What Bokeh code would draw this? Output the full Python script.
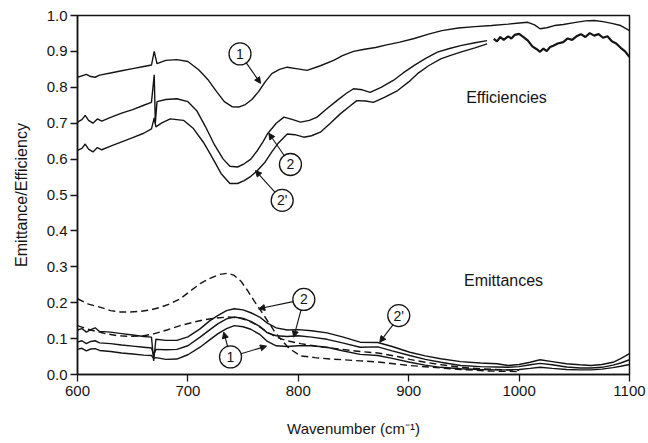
from bokeh.plotting import figure
from bokeh.models import Arrow, NormalHead, Label, FixedTicker, PrintfTickFormatter
from bokeh.embed import file_html
from bokeh.resources import INLINE

# ---------------- data ----------------
eff1_x = [600, 604, 608, 612, 616, 620, 630, 640, 650, 660, 667, 669.5, 672, 680, 690, 700, 710, 718, 726, 733,
          740, 746, 752, 758, 764, 770, 776, 783, 790, 798, 808, 820, 832, 840, 850, 860, 870, 880, 892, 905,
          918, 930, 945, 960, 975, 990, 1000, 1008, 1014, 1019, 1025, 1032, 1040, 1050, 1060, 1068, 1076, 1084,
          1092, 1100]
eff1_y = [0.828, 0.832, 0.836, 0.830, 0.828, 0.834, 0.840, 0.846, 0.852, 0.858, 0.862, 0.900, 0.866, 0.875, 0.877,
          0.872, 0.848, 0.822, 0.788, 0.760, 0.746, 0.745, 0.752, 0.766, 0.788, 0.815, 0.838, 0.850, 0.856, 0.852,
          0.847, 0.860, 0.875, 0.888, 0.900, 0.906, 0.911, 0.918, 0.926, 0.936, 0.948, 0.958, 0.965, 0.969, 0.972,
          0.976, 0.979, 0.981, 0.974, 0.963, 0.966, 0.972, 0.975, 0.980, 0.985, 0.986, 0.983, 0.978, 0.972, 0.958]

eff2_x = [600, 604, 607, 610, 614, 618, 622, 630, 640, 650, 660, 667, 669.5, 670.5, 672, 680, 690, 700, 708, 716,
          724, 732, 738, 745, 751, 757, 763, 768, 772, 780, 787, 795, 802, 810, 817, 825, 835, 843, 850, 858,
          865, 875, 886, 895, 905, 915, 926, 937, 947, 960, 971]
eff2_y = [0.703, 0.710, 0.722, 0.708, 0.700, 0.712, 0.706, 0.716, 0.728, 0.738, 0.750, 0.758, 0.835, 0.700, 0.760,
          0.766, 0.768, 0.760, 0.735, 0.690, 0.640, 0.600, 0.580, 0.578, 0.587, 0.600, 0.624, 0.648, 0.670, 0.700,
          0.717, 0.710, 0.703, 0.708, 0.717, 0.738, 0.763, 0.782, 0.796, 0.793, 0.786, 0.800, 0.819, 0.840, 0.861,
          0.880, 0.898, 0.908, 0.916, 0.924, 0.930]

eff2p_x = [600, 604, 607, 610, 614, 618, 622, 630, 640, 650, 660, 667, 669.5, 671, 676, 684, 696, 705, 714, 722,
           730, 738, 745, 751, 757, 763, 770, 776, 782, 790, 797, 805, 812, 820, 829, 838, 846, 853, 861, 868,
           878, 890, 900, 908, 918, 929, 938, 947, 960, 971]
eff2p_y = [0.624, 0.630, 0.642, 0.628, 0.620, 0.632, 0.626, 0.636, 0.648, 0.660, 0.672, 0.684, 0.715, 0.690, 0.700,
           0.712, 0.708, 0.685, 0.647, 0.605, 0.560, 0.532, 0.532, 0.540, 0.552, 0.568, 0.592, 0.620, 0.645, 0.670,
           0.668, 0.661, 0.665, 0.675, 0.700, 0.726, 0.746, 0.763, 0.762, 0.758, 0.772, 0.791, 0.815, 0.838, 0.860,
           0.879, 0.889, 0.898, 0.910, 0.921]

tail_x = [977, 980, 983, 986, 990, 993, 996, 1000, 1004, 1008, 1012, 1016, 1019, 1022, 1025, 1028, 1031, 1035,
          1040, 1044, 1048, 1052, 1056, 1060, 1064, 1068, 1072, 1076, 1080, 1084, 1088, 1092, 1096, 1100]
tail_y = [0.935, 0.928, 0.940, 0.932, 0.942, 0.936, 0.946, 0.949, 0.940, 0.930, 0.914, 0.906, 0.899, 0.908, 0.901,
          0.912, 0.916, 0.922, 0.926, 0.936, 0.932, 0.942, 0.948, 0.940, 0.951, 0.944, 0.948, 0.938, 0.942, 0.928,
          0.922, 0.910, 0.900, 0.884]

em_x = [600, 604, 608, 612, 616, 620, 630, 640, 650, 660, 667, 669, 671, 680, 690, 700, 711, 720, 727, 735,
        742, 750, 757, 765, 772, 780, 790, 800, 812, 826, 840, 856, 872, 885, 901, 915, 929, 947, 965, 980,
        990, 1000, 1010, 1019, 1030, 1043, 1055, 1065, 1075, 1085, 1092, 1100]
em_2p = [0.124, 0.128, 0.118, 0.125, 0.130, 0.120, 0.118, 0.114, 0.110, 0.106, 0.104, 0.038, 0.098, 0.095, 0.095,
         0.105, 0.127, 0.150, 0.164, 0.178, 0.183, 0.180, 0.172, 0.160, 0.143, 0.130, 0.124, 0.125, 0.122, 0.116,
         0.105, 0.090, 0.089, 0.078, 0.062, 0.052, 0.044, 0.036, 0.032, 0.030, 0.025, 0.028, 0.034, 0.041, 0.036,
         0.030, 0.027, 0.025, 0.028, 0.034, 0.044, 0.058]
em_2 = [0.090, 0.094, 0.086, 0.092, 0.094, 0.088, 0.086, 0.082, 0.079, 0.076, 0.074, 0.055, 0.070, 0.069, 0.070,
        0.080, 0.104, 0.125, 0.141, 0.155, 0.160, 0.156, 0.148, 0.134, 0.116, 0.108, 0.106, 0.108, 0.104, 0.098,
        0.088, 0.076, 0.077, 0.066, 0.053, 0.042, 0.034, 0.025, 0.022, 0.021, 0.020, 0.022, 0.027, 0.031, 0.027,
        0.021, 0.018, 0.018, 0.020, 0.026, 0.032, 0.041]
em_1 = [0.070, 0.073, 0.066, 0.071, 0.072, 0.067, 0.064, 0.060, 0.057, 0.054, 0.053, 0.045, 0.047, 0.042, 0.043,
        0.055, 0.076, 0.097, 0.113, 0.128, 0.136, 0.133, 0.126, 0.112, 0.092, 0.080, 0.078, 0.080, 0.080, 0.076,
        0.066, 0.056, 0.053, 0.045, 0.034, 0.026, 0.020, 0.016, 0.014, 0.013, 0.013, 0.014, 0.017, 0.020, 0.017,
        0.014, 0.013, 0.013, 0.015, 0.019, 0.023, 0.028]

dash2_x = [600, 610, 621, 630, 639, 648, 657, 666, 675, 684, 693, 702, 711, 720, 729, 736, 742, 748, 754, 760,
           766, 772, 778, 785, 792, 802, 815, 830, 856, 872, 901, 930, 947, 970, 1000]
dash2_y = [0.211, 0.196, 0.187, 0.178, 0.174, 0.174, 0.176, 0.180, 0.187, 0.197, 0.211, 0.232, 0.253, 0.268, 0.279,
           0.282, 0.276, 0.260, 0.234, 0.205, 0.178, 0.150, 0.122, 0.095, 0.072, 0.052, 0.047, 0.043, 0.038, 0.035,
           0.025, 0.018, 0.014, 0.010, 0.008]

dash1_x = [600, 612, 624, 636, 648, 660, 669, 681, 693, 704, 714, 725, 736, 746, 755, 764, 772, 780, 790, 802,
           814, 826, 840, 856, 872, 890, 901, 915, 930, 947, 965, 985, 1000]
dash1_y = [0.136, 0.124, 0.115, 0.108, 0.106, 0.108, 0.113, 0.124, 0.136, 0.145, 0.152, 0.157, 0.160, 0.158, 0.150,
           0.135, 0.118, 0.104, 0.094, 0.086, 0.080, 0.075, 0.070, 0.064, 0.060, 0.050, 0.042, 0.034, 0.027, 0.020,
           0.016, 0.013, 0.012]

x_ticks = [600, 700, 800, 900, 1000, 1100]
y_ticks = [0.0, 0.1, 0.2, 0.3, 0.4, 0.5, 0.6, 0.7, 0.8, 0.9, 1.0]

# ---------------- annotations ----------------
circle_labels = ["1", "2", "2'", "2", "1", "2'"]
circle_x = [747.2, 792.9, 785.4, 805.0, 738.6, 891.0]
circle_y = [0.893, 0.585, 0.485, 0.209, 0.049, 0.164]
# arrows: (x_start, y_start, x_end, y_end)
arrows = [
    (752.9, 0.868, 765.8, 0.811),
    (787.2, 0.610, 773.3, 0.672),
    (778.8, 0.508, 761.2, 0.568),
    (795.2, 0.203, 764.2, 0.183),
    (802.4, 0.179, 795.9, 0.104),
    (736.0, 0.078, 732.5, 0.118),
    (748.1, 0.058, 771.2, 0.079),
    (885.9, 0.139, 873.8, 0.090),
]

FONT = "Liberation Sans"
INK = "#141414"

p = figure(width=648, height=443, x_range=(600, 1100), y_range=(0, 1),
           output_backend="svg", toolbar_location=None,
           min_border_left=77, min_border_right=19, min_border_top=15, min_border_bottom=69)
p.xgrid.visible = False
p.ygrid.visible = False
p.outline_line_color = INK
p.outline_line_width = 1.5
p.background_fill_color = "white"
p.border_fill_color = "white"

for ax in (p.xaxis[0], p.yaxis[0]):
    ax.axis_line_color = INK
    ax.axis_line_width = 1.5
    ax.major_tick_line_color = INK
    ax.major_tick_line_width = 1.3
    ax.major_tick_in = 0
    ax.major_tick_out = 7
    ax.minor_tick_line_color = None
    ax.major_label_text_font = FONT
    ax.major_label_text_font_size = "15px"
    ax.major_label_text_color = INK
    ax.axis_label_text_font = FONT
    ax.axis_label_text_font_style = "normal"
    ax.axis_label_text_color = INK

p.xaxis.axis_label_text_font_size = "15px"
p.yaxis.axis_label_text_font_size = "16px"
p.xaxis.ticker = FixedTicker(ticks=x_ticks)
p.yaxis.ticker = FixedTicker(ticks=y_ticks)
p.yaxis.formatter = PrintfTickFormatter(format="%.1f")
p.xaxis.axis_label = "Wavenumber (cm\u207b\u00b9)"
p.yaxis.axis_label = "Emittance/Efficiency"
p.xaxis.major_label_standoff = 4
p.yaxis.major_label_standoff = 3
p.xaxis.axis_label_standoff = 21
p.yaxis.axis_label_standoff = 14

lw = 1.4
p.line(eff1_x, eff1_y, line_color=INK, line_width=lw)
p.line(eff2_x, eff2_y, line_color=INK, line_width=lw)
p.line(eff2p_x, eff2p_y, line_color=INK, line_width=lw)
p.line(tail_x, tail_y, line_color=INK, line_width=2.2)
p.line(em_x, em_2p, line_color=INK, line_width=lw)
p.line(em_x, em_2, line_color=INK, line_width=lw)
p.line(em_x, em_1, line_color=INK, line_width=lw)
p.line(dash2_x, dash2_y, line_color=INK, line_width=lw, line_dash="7 4")
p.line(dash1_x, dash1_y, line_color=INK, line_width=lw, line_dash="7 4")

for (xs, ys, xe, ye) in arrows:
    p.add_layout(Arrow(end=NormalHead(size=6, fill_color=INK, line_color=INK, line_width=1),
                       x_start=xs, y_start=ys, x_end=xe, y_end=ye,
                       line_color=INK, line_width=1.1))

p.scatter(circle_x, circle_y, marker="circle", size=22, fill_color="white",
          line_color=INK, line_width=1.3)
for lab, cx, cy in zip(circle_labels, circle_x, circle_y):
    p.add_layout(Label(x=cx, y=cy, text=lab, text_align="center", text_baseline="middle",
                       text_font=FONT, text_font_size="14px", text_color=INK))

p.add_layout(Label(x=988.6, y=0.772, text="Efficiencies", text_align="center",
                   text_baseline="middle", text_font=FONT, text_font_size="16px", text_color=INK))
p.add_layout(Label(x=985.9, y=0.262, text="Emittances", text_align="center",
                   text_baseline="middle", text_font=FONT, text_font_size="16px", text_color=INK))

open("out.html", "w").write(file_html(p, INLINE))
